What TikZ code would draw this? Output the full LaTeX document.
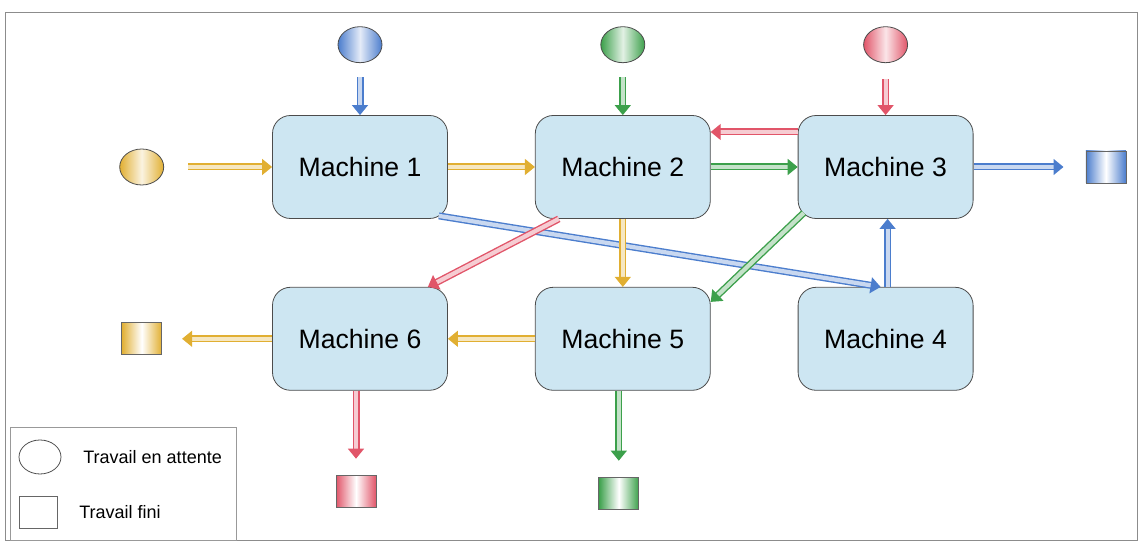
\documentclass[tikz,border=0pt]{standalone}
\usepackage{fontspec}
\setmainfont{Liberation Sans}
\usetikzlibrary{shapes.geometric,positioning,calc,arrows.meta}
\definecolor{jobblue}{RGB}{75,125,205}
\definecolor{jobgreen}{RGB}{60,160,75}
\definecolor{jobred}{RGB}{225,85,105}
\definecolor{jobyellow}{RGB}{225,175,50}
\definecolor{machinefill}{RGB}{205,230,242}
\tikzset{
  shop machine/.style={rectangle, rounded corners=9pt, draw=black!70, fill=machinefill, align=center, minimum width=87.5pt, minimum height=51.5pt, font=\fontsize{13.3}{16}\selectfont},
  shop job/.style={ellipse, draw=black!70, minimum width=22pt, minimum height=18pt, inner sep=0pt, left color=#1, right color=#1, middle color=#1!15},
  shop done/.style={rectangle, draw=black!60, minimum width=20pt, minimum height=16pt, inner sep=0pt, left color=#1, right color=#1, middle color=white},
  shop flow/.style={draw=#1, line width=0.7pt, double=#1!30, double distance=2.1pt, -{Triangle[width=8pt,length=5pt]}},
  shop key/.style={anchor=west, inner sep=0pt, font=\fontsize{9}{11}\selectfont}
}
\begin{document}
\begin{tikzpicture}[x=0.5pt, y=-0.5pt, node distance=43.5pt]
    \useasboundingbox (0,0) rectangle (1141,544);
    \draw [black!45] (5,12) rectangle (1137,540);

    % machines, top row then bottom row
    \node [shop machine] (M1) at (360,167) {Machine 1};
    \node [shop machine, right=of M1] (M2) {Machine 2};
    \node [shop machine, right=of M2] (M3) {Machine 3};
    \node [shop machine, below=34pt of M1] (M6) {Machine 6};
    \node [shop machine, right=of M6] (M5) {Machine 5};
    \node [shop machine, right=of M5] (M4) {Machine 4};

    % waiting jobs
    \node [shop job=jobblue, above=26pt of M1] (InB) {};
    \node [shop job=jobgreen, above=26pt of M2] (InG) {};
    \node [shop job=jobred, above=26pt of M3] (InR) {};
    \node [shop job=jobyellow, left=54pt of M1] (InY) {};

    % finished jobs
    \node [shop done=jobblue, right=56pt of M3] (OutB) {};
    \node [shop done=jobyellow, left=55pt of M6] (OutY) {};
    \node [shop done=jobred, below=42pt of M6, xshift=-2pt] (OutR) {};
    \node [shop done=jobgreen, below=43pt of M5, xshift=-2pt] (OutG) {};

    % job routes
    \draw [shop flow=jobblue, shorten <=7pt] (InB) -- (M1);
    \draw [shop flow=jobgreen, shorten <=7pt] (InG) -- (M2);
    \draw [shop flow=jobred, shorten <=8pt] (InR) -- (M3);
    \draw [shop flow=jobyellow, shorten <=12pt] (InY) -- (M1);
    \draw [shop flow=jobyellow] (M1) -- (M2);
    \draw [shop flow=jobgreen] (M2) -- (M3);
    \draw [shop flow=jobred] ([yshift=17.5pt]M3.west) -- ([yshift=17.5pt]M3.west -| M2.east);
    \draw [shop flow=jobblue, shorten >=11pt] (M3) -- (OutB);
    \draw [shop flow=jobblue] ([xshift=-4.5pt,yshift=1.5pt]M1.south east) -- ([xshift=-2.5pt]M4.north);
    \draw [shop flow=jobred] ([xshift=-32pt]M2.south) -- ([xshift=-10pt]M6.north east);
    \draw [shop flow=jobyellow] (M2) -- (M5);
    \draw [shop flow=jobgreen] ([xshift=3pt,yshift=3pt]M3.south west) -- ([yshift=-7.5pt]M5.north east);
    \draw [shop flow=jobblue] ([xshift=1pt]M4.north) -- ([xshift=1pt]M3.south);
    \draw [shop flow=jobyellow] (M5) -- (M6);
    \draw [shop flow=jobyellow, shorten >=10pt] (M6) -- (OutY);
    \draw [shop flow=jobred, shorten >=8pt] ([xshift=-2pt]M6.south) -- (OutR);
    \draw [shop flow=jobgreen, shorten >=8pt] ([xshift=-2pt]M5.south) -- (OutG);

    % key
    \draw [black!40] (10,427) rectangle (236,540);
    \node [shop job=white, minimum width=21pt, minimum height=17pt] (KeyJob) at (40,457) {};
    \node [shop key] (KeyJobText) at (83,457) {Travail en attente};
    \node [shop done=white, minimum width=19pt, minimum height=16pt] (KeyDone) at (38,512) {};
    \node [shop key] (KeyDoneText) at (79,512) {Travail fini};
\end{tikzpicture}
\end{document}
